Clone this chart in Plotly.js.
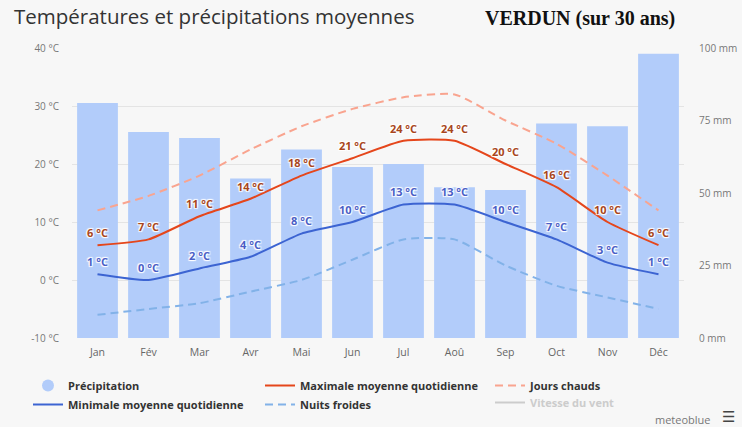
<!DOCTYPE html>
<html>
<head>
<meta charset="utf-8">
<script src="https://cdn.plot.ly/plotly-3.0.1.min.js"></script>
<style>html,body{margin:0;padding:0;background:#f7f7f7;}#chart{width:742px;height:427px;}</style>
</head>
<body>
<div id="chart"></div>
<script>
const months = ["Jan","Fév","Mar","Avr","Mai","Jun","Jul","Aoû","Sep","Oct","Nov","Déc"];
const precipitation = [81, 71, 69, 55, 65, 59, 60, 52, 51, 74, 73, 98];
const tempMax = [6, 7, 11, 14, 18, 21, 24, 24, 20, 16, 10, 6];
const tempMin = [1, 0, 2, 4, 8, 10, 13, 13, 10, 7, 3, 1];
const hotDays = [12, 14.5, 18, 22.5, 26.5, 29.5, 31.5, 32, 27.5, 23.5, 18, 12];
const coldNights = [-6, -5, -4, -2, 0, 3.5, 7, 7, 2.5, -1, -3, -5];
const tempTicks = [-10, 0, 10, 20, 30, 40];
const mmTicks = [0, 25, 50, 75, 100];

const lbl = v => v.map(t => t + " °C");
const halo = "1px 1px 1px #fff, -1px -1px 1px #fff, 1px -1px 1px #fff, -1px 1px 1px #fff";
const SM = 0.55;
const ghost = {size: 7, color: "rgba(0,0,0,0)", line: {width: 0}};

const traces = [
  {type: "bar", x: months, y: precipitation, yaxis: "y", marker: {color: "#b2ccfa"}, showlegend: false, hoverinfo: "skip"},
  {type: "scatter", mode: "markers", x: [null], y: [null], yaxis: "y", name: "Précipitation",
   marker: {color: "#b2ccfa", size: 12, symbol: "circle"}, legend: "legend"},
  {type: "scatter", mode: "lines+markers+text", x: months, y: tempMin, yaxis: "y2", name: "Minimale moyenne quotidienne",
   line: {color: "#3c64d2", width: 2, shape: "spline", smoothing: SM}, marker: ghost,
   text: lbl(tempMin), textposition: "top center",
   textfont: {family: "Open Sans, sans-serif", size: 11, weight: 700, color: "#4a5ec6", shadow: halo}, legend: "legend", cliponaxis: false},
  {type: "scatter", mode: "lines+markers+text", x: months, y: tempMax, yaxis: "y2", name: "Maximale moyenne quotidienne",
   line: {color: "#e5461b", width: 2, shape: "spline", smoothing: SM}, marker: ghost,
   text: lbl(tempMax), textposition: "top center",
   textfont: {family: "Open Sans, sans-serif", size: 11, weight: 700, color: "#a8461c", shadow: halo}, legend: "legend2", cliponaxis: false},
  {type: "scatter", mode: "lines", x: months, y: coldNights, yaxis: "y2", name: "Nuits froides",
   line: {color: "#82b2e8", width: 2, shape: "spline", smoothing: SM, dash: "8px,5px"}, legend: "legend2"},
  {type: "scatter", mode: "lines", x: months, y: hotDays, yaxis: "y2", name: "Jours chauds",
   line: {color: "#f9a48f", width: 2, shape: "spline", smoothing: SM, dash: "8px,5px"}, legend: "legend3"},
  {type: "scatter", mode: "lines", x: [null], y: [null], yaxis: "y2", name: "Vitesse du vent",
   line: {color: "#cccccc", width: 2}, legend: "legend4"}
];
const legFont = {family: "Open Sans, sans-serif", size: 11, weight: 700, color: "#333"};
const legBase = {orientation: "v", bgcolor: "rgba(0,0,0,0)", font: legFont, itemwidth: 30, tracegroupgap: 0, xanchor: "left", yanchor: "top", itemclick: false, itemdoubleclick: false};
const PY = px => (338 - px) / 290;
const PX = px => (px - 72) / 612;

const layout = {
  width: 742, height: 427,
  paper_bgcolor: "#f7f7f7", plot_bgcolor: "#f7f7f7",
  margin: {l: 72, r: 58, t: 48, b: 89, autoexpand: false},
  title: {text: "Températures et précipitations moyennes", x: 14/742, xref: "container", xanchor: "left",
          y: 1 - 17/427, yref: "container", yanchor: "middle",
          font: {family: "Open Sans, sans-serif", size: 20.5, color: "#333"}},
  bargap: 0.2,
  xaxis: {type: "category", range: [-0.5, 11.5], autorange: false, showgrid: false, zeroline: false, showline: false, ticks: "",
          tickfont: {family: "Open Sans, sans-serif", size: 10.5, color: "#666"}, ticklabelstandoff: 6, fixedrange: true},
  yaxis: {range: [0, 100], side: "right", tickvals: mmTicks, ticktext: mmTicks.map(v => v + " mm"),
          showgrid: false, zeroline: false, showline: false, ticks: "",
          tickfont: {family: "Open Sans, sans-serif", size: 10, color: "#777"}, ticklabelstandoff: 14,
          minor: {tickvals: tempTicks.map(t => (t + 10) * 2), showgrid: true, gridcolor: "#e4e4e4", gridwidth: 1, ticks: ""}},
  yaxis2: {range: [-10, 40], overlaying: "y", side: "left", tickvals: tempTicks, ticktext: tempTicks.map(v => v + " °C"),
           showgrid: false, zeroline: false, showline: false, ticks: "",
           tickfont: {family: "Open Sans, sans-serif", size: 10, color: "#777"}, ticklabelstandoff: 12},
  legend: Object.assign({}, legBase, {x: PX(28), y: PY(371)}),
  legend2: Object.assign({}, legBase, {x: PX(260), y: PY(371)}),
  legend3: Object.assign({}, legBase, {x: PX(490), y: PY(371)}),
  legend4: Object.assign({}, legBase, {x: PX(490), y: PY(388), font: Object.assign({}, legFont, {color: "#cccccc"})}),
  annotations: [
    {text: "<b>VERDUN (sur 30 ans)</b>", xref: "paper", yref: "paper", x: PX(483), y: PY(18),
     xanchor: "left", yanchor: "middle", showarrow: false, font: {family: "Liberation Serif, Times New Roman, serif", size: 20, color: "#111"}},
    {text: "meteoblue", xref: "paper", yref: "paper", x: PX(713), y: PY(419),
     xanchor: "right", yanchor: "middle", showarrow: false, font: {family: "Open Sans, sans-serif", size: 11, color: "#777"}},
    {text: "☰", xref: "paper", yref: "paper", x: PX(737), y: PY(417),
     xanchor: "right", yanchor: "middle", showarrow: false, font: {family: "DejaVu Sans, sans-serif", size: 15, color: "#444"}}
  ],
  showlegend: true
};

Plotly.newPlot("chart", traces, layout, {displayModeBar: false, staticPlot: true});
</script>
</body>
</html>
